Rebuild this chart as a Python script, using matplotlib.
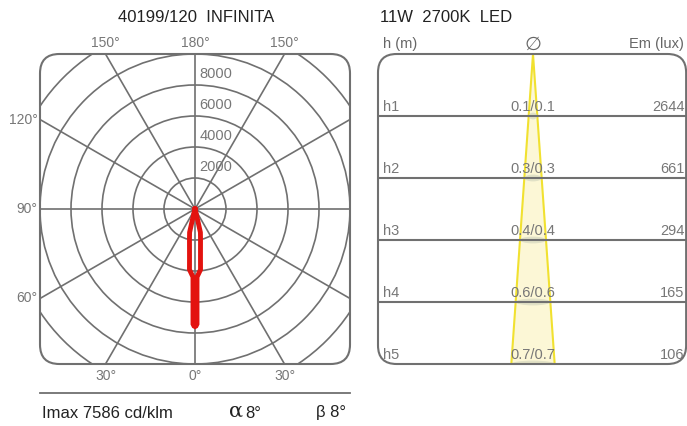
import numpy as np
import matplotlib
matplotlib.use("Agg")
import matplotlib.pyplot as plt
from matplotlib.patches import FancyBboxPatch, Circle, Polygon, Ellipse

plt.rcParams['font.family'] = ['Liberation Sans', 'DejaVu Sans']

# --- data -------------------------------------------------------------
title_left = "40199/120  INFINITA"
title_right = "11W  2700K  LED"

# intensity curve (cd/klm) against angle from nadir (deg)
polar_angles = [0, 0.5, 1.0, 1.15, 1.43, 1.7, 5.2, 6.3, 7.9, 10.6, 13,
                15, 20, 30, 90]
polar_cd = [7586, 7550, 7420, 6450, 5160, 4390, 3930, 3225, 2580, 1935,
            1550, 300, 50, 0, 0]
ring_values = [2000, 4000, 6000, 8000, 10000, 12000, 14000]
ring_labels = [2000, 4000, 6000, 8000]
spoke_angles = [0, 30, 60, 90, 120, 150, 180, 210, 240, 270, 300, 330]

imax = 7586
beam_alpha = 8
beam_beta = 8

heights = [1, 2, 3, 4, 5]
h_names = ["h1", "h2", "h3", "h4", "h5"]
diameters = ["0.1/0.1", "0.3/0.3", "0.4/0.4", "0.6/0.6", "0.7/0.7"]
em_lux = [2644, 661, 294, 165, 106]

W, H = 687, 426
GRID = "#707070"
TXT = "#777777"


def fx(px):
    return px / W


def fy(py):
    return 1 - py / H


fig = plt.figure(figsize=(W / 100, H / 100), dpi=100)

# --- left: polar intensity diagram ------------------------------------
axp = fig.add_axes([fx(40), fy(364), 310 / W, 310 / H])
axp.set_xlim(-10000, 10000)
axp.set_ylim(-10000, 10000)
axp.axis("off")

box = FancyBboxPatch((-10000, -10000), 20000, 20000,
                     boxstyle="round,pad=0,rounding_size=1250",
                     fc="none", ec=GRID, lw=1.5, clip_on=False, zorder=3)
axp.add_patch(box)

for r in ring_values:
    c = Circle((0, 0), r, fc="none", ec=GRID, lw=1.2, zorder=1)
    axp.add_patch(c)
    c.set_clip_path(box)
for a in spoke_angles:
    t = np.deg2rad(a)
    ln, = axp.plot([0, 20000 * np.sin(t)], [0, -20000 * np.cos(t)],
                   color=GRID, lw=1.2, zorder=1)
    ln.set_clip_path(box)

for r in ring_labels:
    axp.text(300, r + 250, str(r), color=TXT, fontsize=10.5,
             ha="left", va="bottom", zorder=4)

# mirrored curve (both half planes)
ang = np.deg2rad(np.array(polar_angles))
cd = np.array(polar_cd)
full_ang = np.concatenate([-ang[::-1], ang[1:]])
full_cd = np.concatenate([cd[::-1], cd[1:]])
axp.plot(full_cd * np.sin(full_ang), -full_cd * np.cos(full_ang),
         color="#e3130f", lw=3.5, solid_joinstyle="miter", zorder=5)

# angle labels around the square
off = 10000 * np.tan(np.deg2rad(30))
for x, lab in [(-off, "150°"), (0, "180°"), (off, "150°")]:
    axp.text(x, 10700, lab, color=TXT, fontsize=10, ha="center",
             va="center", clip_on=False)
for x, lab in [(-off, "30°"), (0, "0°"), (off, "30°")]:
    axp.text(x, -10750, lab, color=TXT, fontsize=10, ha="center",
             va="center", clip_on=False)
for y, lab in [(off, "120°"), (0, "90°"), (-off, "60°")]:
    axp.text(-10150, y, lab, color=TXT, fontsize=10, ha="right",
             va="center", clip_on=False)

fig.text(fx(196), fy(17), title_left, fontsize=12, color="#222222",
         ha="center", va="center")

# bottom info strip
fig.add_artist(plt.Line2D([fx(40), fx(350)], [fy(393), fy(393)],
                          color=GRID, lw=1.3))
fig.text(fx(42), fy(413), f"Imax {imax} cd/klm", fontsize=12,
         color="#222222", ha="left", va="center")
fig.text(fx(243), fy(411), "α", fontsize=15, family="DejaVu Serif",
         color="#222222", ha="right", va="center")
fig.text(fx(245), fy(413), f"{beam_alpha}°", fontsize=12,
         color="#222222", ha="left", va="center")
fig.text(fx(346), fy(413), f"β {beam_beta}°", fontsize=12,
         color="#222222", ha="right", va="center")

# --- right: light cone ----------------------------------------------------
axc = fig.add_axes([fx(378), fy(364), 309 / W, 310 / H])
axc.set_xlim(-155 / 62, 154 / 62)
axc.set_ylim(5, 0)
axc.axis("off")

half = np.tan(np.deg2rad(beam_alpha / 2))
hmax = heights[-1]
cone = Polygon([(0, 0), (-hmax * half, hmax), (hmax * half, hmax)],
               closed=True, fc="#fcf7d6", ec="#f1e130", lw=1.5, zorder=1)
axc.add_patch(cone)
for h in heights:
    axc.add_patch(Ellipse((0, h), 2 * h * half, 0.11, fc="#d6d8c0",
                          ec="none", alpha=0.7, zorder=1.5))

rbox = FancyBboxPatch((-2.5, 0), 4.97, 5,
                      boxstyle="round,pad=0,rounding_size=0.3",
                      fc="none", ec=GRID, lw=1.5, clip_on=False, zorder=3)
axc.add_patch(rbox)
for h in heights[:-1]:
    axc.plot([-2.5, 2.47], [h, h], color=GRID, lw=1.5, zorder=2)

for h, nm, d, e in zip(heights, h_names, diameters, em_lux):
    axc.text(-2.42, h - 0.04, nm, color=TXT, fontsize=10.5, ha="left",
             va="bottom", zorder=4)
    axc.text(0, h - 0.04, d, color=TXT, fontsize=10.5, ha="center",
             va="bottom", zorder=4)
    axc.text(2.44, h - 0.04, str(e), color=TXT, fontsize=10.5, ha="right",
             va="bottom", zorder=4)

axc.text(-2.42, -0.16, "h (m)", color="#666666", fontsize=10.5, ha="left",
         va="center", clip_on=False)
axc.text(0, -0.16, "∅", color="#666666", fontsize=14, ha="center",
         va="center", family="DejaVu Sans", clip_on=False)
axc.text(2.44, -0.16, "Em (lux)", color="#666666", fontsize=10.5,
         ha="right", va="center", clip_on=False)

fig.text(fx(380), fy(17), title_right, fontsize=12, color="#222222",
         ha="left", va="center")

fig.savefig("out.png", dpi=100)
